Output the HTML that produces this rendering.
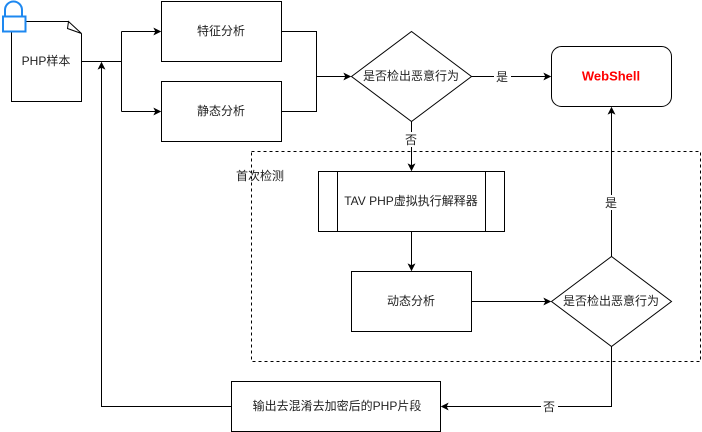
<!DOCTYPE html>
<html><head><meta charset="utf-8">
<style>
html,body{margin:0;padding:0;background:#fff;}
svg{display:block;}
text{font-family:"Liberation Sans","Noto Sans CJK SC",sans-serif;font-size:12px;fill:#222;}
</style></head>
<body>
<svg width="702" height="432" viewBox="0 0 702 432" xmlns="http://www.w3.org/2000/svg">
<defs>
<marker id="ar" viewBox="0 0 10 10" refX="9" refY="5" markerWidth="8" markerHeight="8" markerUnits="userSpaceOnUse" orient="auto">
<path d="M0,0 L10,5 L0,10 L2.5,5 Z" fill="#000"/>
</marker>
</defs>
<g fill="none" stroke="#000" stroke-width="1">
<!-- dashed container -->
<rect x="251.5" y="151.5" width="449" height="210" stroke-dasharray="3,3"/>
<!-- doc shape -->
<path d="M11.5,21.5 H68.5 M81.5,33.5 V101.5 H11.5 V21.5" fill="#fff"/>
<polygon points="68.5,21.5 81.5,33.5 67.5,28.5" fill="#fff"/>
<!-- boxes -->
<rect x="161.5" y="1.5" width="120" height="60" fill="#fff"/>
<rect x="161.5" y="81.5" width="120" height="60" fill="#fff"/>
<rect x="551.5" y="46.5" width="120" height="60" rx="10" ry="10" fill="#fff"/>
<rect x="318.5" y="171.5" width="186" height="60" fill="#fff"/>
<line x1="337.5" y1="171.5" x2="337.5" y2="231.5"/>
<line x1="485.5" y1="171.5" x2="485.5" y2="231.5"/>
<rect x="351.5" y="271.5" width="120" height="60" fill="#fff"/>
<rect x="231.5" y="381.5" width="209" height="50" fill="#fff"/>
<polygon points="351.5,76.5 411.5,31.5 471.5,76.5 411.5,121.5" fill="#fff"/>
<polygon points="551.5,301.5 611.5,256.5 671.5,301.5 611.5,346.5" fill="#fff"/>
<!-- connectors -->
<path d="M81.5,61.5 H121.5"/>
<path d="M121.5,31.5 V111.5"/>
<path d="M121.5,31.5 H160.5" marker-end="url(#ar)"/>
<path d="M121.5,111.5 H160.5" marker-end="url(#ar)"/>
<path d="M281.5,31.5 H316.5 V111.5 H281.5"/>
<path d="M316.5,76.5 H350.5" marker-end="url(#ar)"/>
<path d="M471.5,76.5 H550.5" marker-end="url(#ar)"/>
<path d="M411.5,121.5 V170.5" marker-end="url(#ar)"/>
<path d="M411.5,231.5 V270.5" marker-end="url(#ar)"/>
<path d="M471.5,301.5 H550.5" marker-end="url(#ar)"/>
<path d="M611.5,256.5 V107.5" marker-end="url(#ar)"/>
<path d="M611.5,346.5 V406.5 H441.5" marker-end="url(#ar)"/>
<path d="M231.5,406.5 H101.5 V62.5" marker-end="url(#ar)"/>
</g>
<!-- lock icon -->
<g fill="none" stroke="#1E88F0" stroke-width="2">
<path d="M5,16 V10 A8.5,8.5 0 0 1 22,10 V16"/>
<rect x="3" y="16.5" width="22.5" height="15" fill="#fff"/>
</g>
<!-- label backgrounds -->
<rect x="494" y="69" width="17" height="15" fill="#fff"/>
<rect x="403" y="132" width="17" height="15" fill="#fff"/>
<rect x="603" y="195" width="17" height="15" fill="#fff"/>
<rect x="541" y="399" width="17" height="15" fill="#fff"/>
<!-- texts -->
<g text-anchor="middle" dominant-baseline="central">
<text x="46" y="61">PHP样本</text>
<text x="221" y="31">特征分析</text>
<text x="221" y="111">静态分析</text>
<text x="411" y="76">是否检出恶意行为</text>
<text x="502" y="77">是</text>
<text x="611" y="76" style="fill:#FF0000;font-weight:bold;font-size:13px;">WebShell</text>
<text x="411" y="140">否</text>
<text x="411" y="201">TAV PHP虚拟执行解释器</text>
<text x="411" y="301">动态分析</text>
<text x="611" y="301">是否检出恶意行为</text>
<text x="611" y="203">是</text>
<text x="549" y="407">否</text>
<text x="337" y="406">输出去混淆去加密后的PHP片段</text>
</g>
<text x="236" y="176" dominant-baseline="central">首次检测</text>
</svg>
</body></html>
